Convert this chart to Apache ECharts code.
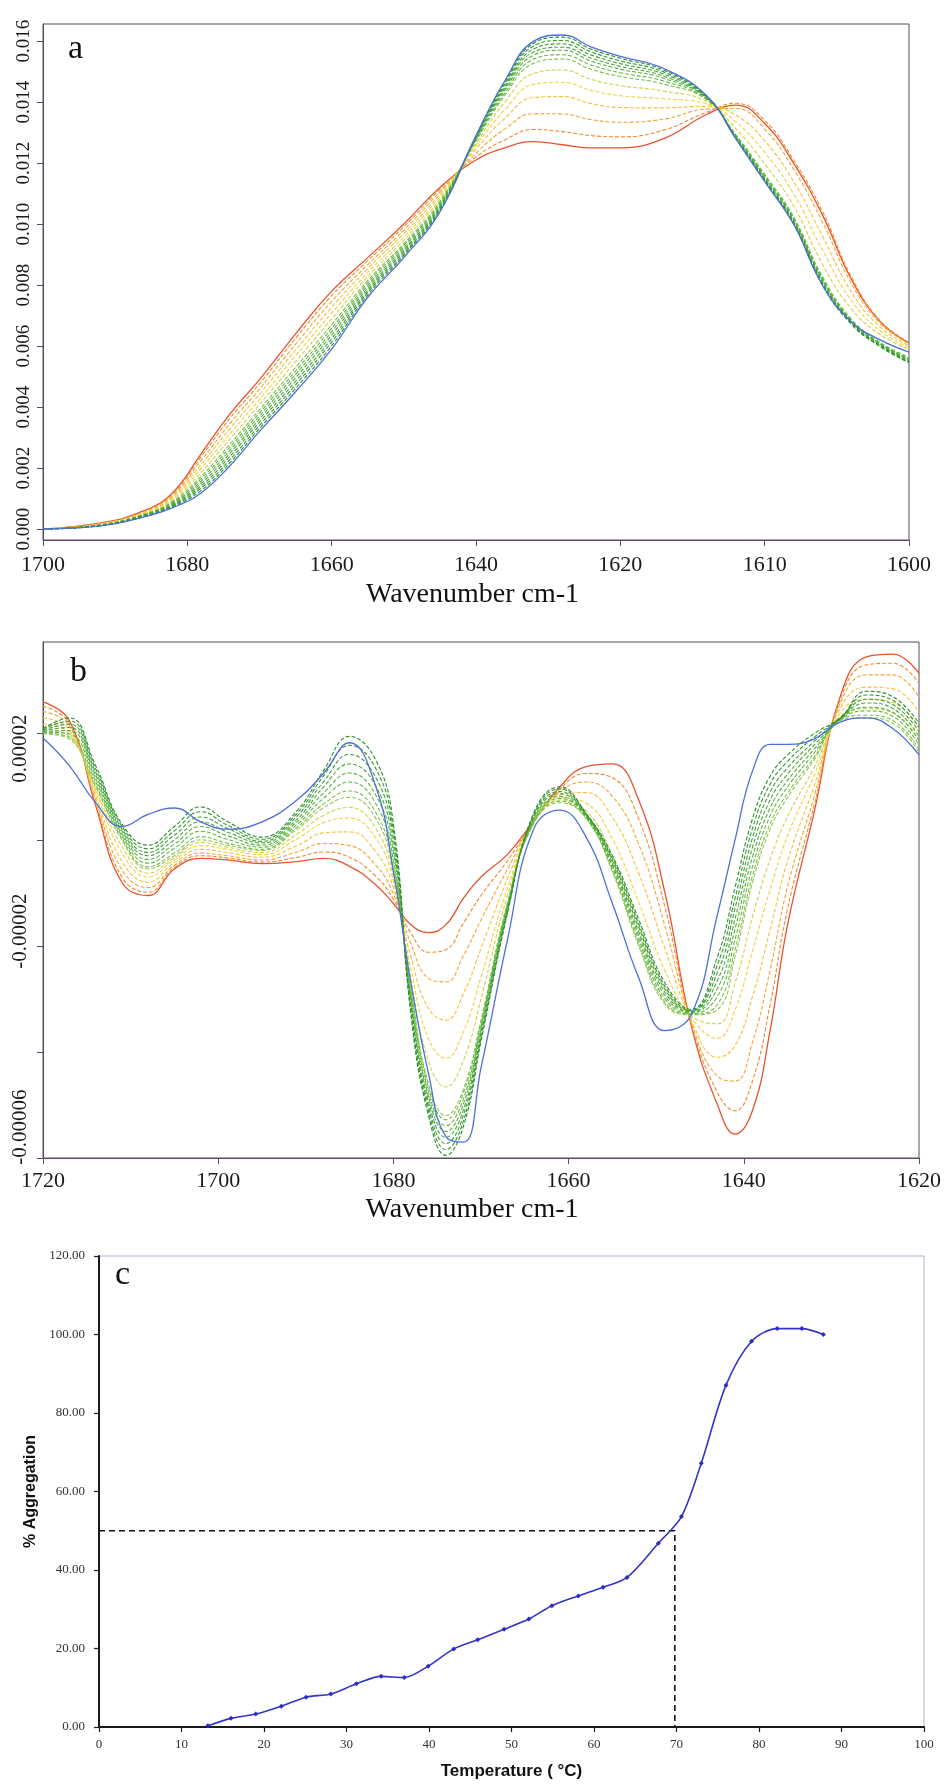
<!DOCTYPE html>
<html><head><meta charset="utf-8">
<script src="https://cdn.jsdelivr.net/npm/echarts@6/dist/echarts.min.js"></script>
<style>html,body{margin:0;padding:0;background:#fff}#c{width:944px;height:1786px}</style>
</head><body><div id="c"></div>
<script>
// ================= Panel a : absorbance spectra =================
const A_TICK_LABELS = [1700, 1680, 1660, 1640, 1620, 1610, 1600];   // equally spaced on the printed axis
const A_Y_TICKS = [0, 0.002, 0.004, 0.006, 0.008, 0.010, 0.012, 0.014, 0.016];
const A_UNIT = 1e-5;   // values below are absorbance x 1e5
const A_WN = [1700,1692,1686,1682,1678,1674,1670,1665,1660,1655,1650,1645,1640,1636,1632,1628,1624,1620,1617,1614,1612,1610,1608,1606,1604,1602,1600];
const A_BLUE = [0,10,40,70,120,210,320,450,590,760,890,1040,1290,1470,1600,1620,1580,1550,1510,1420,1280,1140,1000,800,680,620,580];
const A_G1 = [0,11,41,73,128,220,330,461,601,768,897,1045,1288,1466,1593,1613,1573,1544,1505,1419,1280,1140,1000,800,672,598,545];
const A_G2 = [0,11,42,76,136,230,340,473,613,776,903,1050,1286,1459,1584,1602,1564,1535,1499,1417,1282,1144,1004,805,675,600,548];
const A_G3 = [0,12,44,79,143,241,351,484,624,783,910,1054,1284,1452,1574,1591,1554,1526,1492,1415,1284,1148,1008,809,678,603,551];
const A_G4 = [0,12,45,82,151,251,361,496,636,791,916,1059,1281,1446,1564,1580,1544,1517,1485,1413,1287,1151,1012,814,680,605,554];
const A_G5 = [0,13,46,85,159,261,371,507,647,799,923,1064,1279,1439,1554,1570,1534,1508,1478,1412,1289,1155,1016,818,683,607,557];
const A_G6 = [0,14,47,88,167,271,381,518,658,807,930,1069,1276,1430,1541,1555,1521,1496,1469,1409,1291,1159,1020,823,686,609,560];
const A_G7 = [0,14,48,91,175,281,391,530,670,815,936,1074,1272,1422,1527,1541,1507,1484,1459,1407,1293,1163,1024,828,689,612,563];
const A_Y1 = [0,15,50,96,188,298,408,549,689,828,947,1082,1264,1400,1494,1505,1474,1454,1436,1401,1313,1197,1060,869,722,638,589];
const A_Y2 = [0,16,52,101,201,315,425,568,708,841,958,1090,1256,1375,1458,1465,1438,1421,1411,1394,1335,1235,1100,915,750,650,595];
const A_Y3 = [0,17,54,106,214,332,442,587,727,854,969,1098,1245,1347,1415,1418,1395,1382,1381,1386,1357,1273,1140,961,778,662,601];
const A_Y4 = [0,18,56,111,227,349,459,606,746,867,980,1106,1232,1312,1362,1361,1342,1334,1344,1377,1379,1311,1180,1007,806,674,607];
const A_Y5 = [0,19,58,116,240,366,476,625,765,880,991,1114,1220,1276,1310,1303,1290,1286,1308,1367,1396,1340,1210,1042,827,683,612];
const A_RED = [0,20,60,120,250,380,490,640,780,890,1000,1120,1210,1250,1270,1260,1250,1250,1280,1360,1390,1330,1200,1030,820,680,610];

// ================= Panel b : second derivative spectra =================
const B_Y_TICKS = [-0.00006, -0.00004, -0.00002, 0, 0.00002];
const B_Y_LABELS = [0.00002, -0.00002, -0.00006];
const B_UNIT = 1e-6;   // values below are x 1e6
const B_WN = [1720,1717,1714,1711,1708,1705,1702,1699,1695,1691,1688,1685,1682,1680,1678,1676,1674,1672,1670,1667,1664,1661,1658,1655,1652,1649,1646,1643,1641,1639,1637,1635,1632,1629,1626,1623,1620];
const B_BLUE = [19.2,14,7,2.5,4.8,6,3.4,2,3.4,7.5,12.5,18.3,10,-6,-27,-44,-56,-57,-43,-19,2,5.6,0.5,-12,-26,-36,-33,-14,0,13,18,18,19,22.2,23,21,16];
const B_GA = [21,23,14,3,-1,2.5,6.2,3.5,0.5,5.5,13,19.5,15,3,-33,-52,-59.5,-54,-38,-14,5,10,5,-3,-15,-27,-32,-22,-9,4,12,16,20,23,28,27,22];
const B_G2 = [20.9,22.4,13.4,2.6,-1.7,1.7,5.3,2.8,0.1,5.0,12.0,17.8,13.4,1.7,-32.3,-51.1,-58.4,-53.0,-37.4,-13.7,4.7,9.6,4.9,-3.5,-15.8,-27.6,-32.2,-23.5,-11.0,2.2,10.5,14.8,19.3,22.9,27.3,26.3,21.2];
const B_G3 = [20.7,21.8,12.8,2.1,-2.4,0.9,4.3,2.2,-0.3,4.5,10.9,16.1,11.7,0.3,-31.5,-50.2,-57.3,-51.9,-36.8,-13.4,4.4,9.1,4.7,-3.9,-16.5,-28.2,-32.3,-25,-12.9,0.4,9,13.6,18.5,22.9,26.5,25.5,20.4];
const B_G4 = [20.6,21.2,12.2,1.7,-3.0,0.0,3.4,1.5,-0.6,3.9,9.9,14.3,10.1,-1.1,-30.8,-49.3,-56.1,-50.9,-36.2,-13.1,4.1,8.7,4.6,-4.4,-17.3,-28.8,-32.5,-26.5,-14.9,-1.4,7.5,12.4,17.8,22.8,25.8,24.8,19.5];
const B_G5 = [20.4,20.6,11.6,1.2,-3.7,-0.8,2.5,0.8,-1.0,3.4,8.8,12.6,8.4,-2.4,-30,-48.4,-55,-49.8,-35.6,-12.8,3.8,8.2,4.4,-4.8,-18,-29.4,-32.6,-28,-16.8,-3.2,6,11.2,17,22.7,25,24,18.7];
const B_G6 = [20.3,20,11,0.8,-4.4,-1.6,1.6,0.1,-1.4,2.9,7.8,10.9,6.8,-3.8,-29.3,-47.5,-53.9,-48.8,-35,-12.5,3.5,7.8,4.3,-5.3,-18.8,-30,-32.8,-29.5,-18.8,-5,4.5,10,16.3,22.6,24.3,23.3,17.9];
const B_G7 = [20.1,19.4,10.4,0.3,-5.1,-2.5,0.6,-0.6,-1.8,2.4,6.7,9.2,5.1,-5.1,-28.5,-46.6,-52.8,-47.7,-34.4,-12.2,3.2,7.3,4.1,-5.7,-19.5,-30.6,-32.9,-31,-20.7,-6.8,3,8.8,15.5,22.6,23.5,22.5,17.1];
const B_GB = [20,19,10,0,-5.5,-3,0,-1,-2,2,6,8,4,-6,-28,-46,-52,-47,-34,-12,3,7,4,-6,-20,-31,-33,-32,-22,-8,2,8,15,22.5,23,22,16.5];
const B_Y1 = [20.9,19.5,9.5,-1.2,-6.3,-3.4,-0.5,-1.4,-2.4,1.1,4.6,6.1,2.1,-6.9,-26.2,-41.7,-46.6,-41.6,-30,-10.6,3.1,7.5,5.5,-3.0,-15.9,-27.9,-33.3,-34.7,-27.0,-14.5,-3.7,4.4,13.5,23.2,24.7,24.0,18.7];
const B_Y2 = [21.8,20.1,9.0,-2.4,-7.0,-3.8,-1.1,-1.8,-2.8,0.2,3.2,4.1,0.3,-7.8,-24.4,-37.5,-41.2,-36.2,-25.9,-9.2,3.2,7.9,6.9,0.1,-11.8,-24.7,-33.6,-37.4,-32.1,-20.9,-9.4,0.8,12,23.9,26.5,25.9,21.0];
const B_Y3 = [23.0,20.8,8.3,-4,-8,-4.3,-1.8,-2.4,-3.3,-1.1,1.3,1.5,-2.3,-9,-22,-31.8,-34,-29,-20.5,-7.4,3.3,8.5,8.9,4.2,-6.3,-20.5,-34,-41,-38.8,-29.5,-17,-4,10,24.8,28.8,28.5,24.0];
const B_Y4 = [24.2,21.5,7.6,-5.6,-9,-4.8,-2.5,-3.0,-3.8,-2.3,-0.7,-1.1,-4.8,-10.2,-19.6,-26.1,-26.8,-21.8,-15.1,-5.6,3.4,9.1,10.9,8.2,-0.8,-16.3,-34.4,-44.6,-45.5,-38.1,-24.6,-8.8,8,25.7,31.1,31.1,26.9];
const B_Y5 = [25.2,22.0,7.0,-7.0,-9.9,-5.2,-3.0,-3.4,-4.2,-3.3,-2.3,-3.3,-6.9,-11.2,-17.6,-21.2,-20.7,-15.7,-10.5,-4.0,3.4,9.6,12.5,11.7,3.9,-12.7,-34.7,-47.7,-51.1,-45.4,-31.1,-12.9,6.3,26.4,33.0,33.3,29.5];
const B_RED = [26,22.5,6.5,-8,-10.5,-5.5,-3.5,-3.8,-4.5,-4.1,-3.5,-5,-8.5,-12,-16,-17.5,-16,-11,-7,-2.8,3.5,10,13.8,14.3,7.5,-10,-35,-50,-55.5,-51,-36,-16,5,27,34.5,35,31.4];

// ================= Panel c : % aggregation vs temperature =================
const C_TEMP = [13.2,16.0,19.0,22.1,25.1,28.1,31.2,34.2,37.0,39.9,43.0,45.9,49.1,52.1,54.9,58.1,61.1,64.0,67.8,70.6,73.0,76.0,79.1,82.2,85.2,87.8];
const C_AGG  = [0.3,2.2,3.3,5.3,7.6,8.4,11.0,12.9,12.6,15.5,19.9,22.2,24.9,27.5,30.9,33.4,35.6,38.1,46.8,53.6,67.2,87.1,98.3,101.5,101.5,100.0];
const C_MID_PCT = 50;
const C_TM = 69.8;

// ---------------- styling ----------------
const SERIF = 'Liberation Serif';
const SANS = 'Liberation Sans';
const FRAME = '#5b4b60';
const BLUE = '#4d6fd9', RED = '#e8532f';
const YELLOWS = ['#cfd24a', '#f0d23e', '#f6c13a', '#f5a531', '#f08a2b'];
const GREENS = ['#2a8f2e', '#33972f', '#3d9f33', '#48a837', '#55b03b', '#64b840', '#78c046', '#90c84d'];
// the printed panel-b y labels sit a little off their ticks (offset in axis units)
const B_LABEL_NUDGE = [-2.8e-6, 2.8e-6, 5.8e-6];

// position of a wavenumber on panel a's printed (piecewise) axis
function aPos(wn) {
  const t = A_TICK_LABELS;
  for (let i = 0; i < t.length - 1; i++) {
    if (wn <= t[i] && wn >= t[i + 1]) return i + (t[i] - wn) / (t[i] - t[i + 1]);
  }
  return wn > t[0] ? 0 : t.length - 1;
}

function curve(idx, xs, ys, unit, color, dashed, xmap) {
  return {
    type: 'line', xAxisIndex: idx, yAxisIndex: idx, silent: true, animation: false,
    symbol: 'none', smooth: 0.45,
    data: xs.map((w, i) => [xmap ? xmap(w) : w, ys[i] * unit]),
    lineStyle: { color: color, width: dashed ? 1.1 : 1.3, type: dashed ? [4, 2] : 'solid' }
  };
}

const series = [];
// panel a
series.push(curve(0, A_WN, A_RED, A_UNIT, RED, false, aPos));
[A_Y5, A_Y4, A_Y3, A_Y2, A_Y1].forEach((d, k) => series.push(curve(0, A_WN, d, A_UNIT, YELLOWS[4 - k], true, aPos)));
[A_G7, A_G6, A_G5, A_G4, A_G3, A_G2, A_G1].forEach((d, k) => series.push(curve(0, A_WN, d, A_UNIT, GREENS[6 - k], true, aPos)));
series.push(curve(0, A_WN, A_BLUE, A_UNIT, BLUE, false, aPos));
// panel b
series.push(curve(1, B_WN, B_RED, B_UNIT, RED, false));
[B_Y5, B_Y4, B_Y3, B_Y2, B_Y1].forEach((d, k) => series.push(curve(1, B_WN, d, B_UNIT, YELLOWS[4 - k], true)));
[B_GB, B_G7, B_G6, B_G5, B_G4, B_G3, B_G2, B_GA].forEach((d, k) => series.push(curve(1, B_WN, d, B_UNIT, GREENS[7 - k], true)));
series.push(curve(1, B_WN, B_BLUE, B_UNIT, BLUE, false));
// panel c
series.push({
  type: 'line', xAxisIndex: 2, yAxisIndex: 2, silent: true, animation: false, symbol: 'none',
  data: [[0, C_MID_PCT], [C_TM, C_MID_PCT], [C_TM, 0]],
  lineStyle: { color: '#111', width: 1.6, type: [6, 4] }
});
series.push({
  type: 'line', xAxisIndex: 2, yAxisIndex: 2, silent: true, animation: false,
  data: C_TEMP.map((t, i) => [t, C_AGG[i]]), smooth: 0.3,
  symbol: 'diamond', symbolSize: 5,
  itemStyle: { color: '#2c2cc4' },
  lineStyle: { color: '#3333cc', width: 1.6 }
});

const axisFrame = { show: true, onZero: false, lineStyle: { color: FRAME, width: 1 } };
const tickFrame = { show: true, length: 6, lineStyle: { color: FRAME, width: 1 } };
const wnName = (gap, shift) => ({
  name: 'Wavenumber cm-1', nameLocation: 'middle', nameGap: gap,
  nameTextStyle: { fontFamily: SERIF, fontSize: 28, color: '#111', padding: [0, shift, 0, 0] }
});
const bLabelPos = B_Y_LABELS.map((v, i) => v + B_LABEL_NUDGE[i]);
function bLabelText(v) {
  let best = B_Y_LABELS[0];
  B_Y_LABELS.forEach(l => { if (Math.abs(l - v) < Math.abs(best - v)) best = l; });
  return best.toFixed(5);
}

const option = {
  backgroundColor: '#fff',
  animation: false,
  grid: [
    { left: 43, right: 35, top: 24, height: 516, show: true, borderColor: FRAME, borderWidth: 1, containLabel: false },
    { left: 43, right: 22, top: 642, height: 516, show: true, borderColor: FRAME, borderWidth: 1, containLabel: false },
    { left: 99, right: 20, top: 1256, height: 471, show: true, borderColor: '#b9aed0', borderWidth: 1, containLabel: false }
  ],
  xAxis: [
    Object.assign({
      gridIndex: 0, type: 'value', min: 0, max: 6, interval: 1,
      axisLine: axisFrame, axisTick: tickFrame, splitLine: { show: false },
      axisLabel: { formatter: v => String(A_TICK_LABELS[Math.round(v)]), fontFamily: SERIF, fontSize: 22, color: '#1a1a1a', margin: 14 }
    }, wnName(41, 7)),
    Object.assign({
      gridIndex: 1, type: 'value', min: 1620, max: 1720, interval: 20, inverse: true,
      axisLine: axisFrame, axisTick: tickFrame, splitLine: { show: false },
      axisLabel: { formatter: v => String(v), fontFamily: SERIF, fontSize: 22, color: '#1a1a1a', margin: 12 }
    }, wnName(38, 18)),
    {
      gridIndex: 2, type: 'value', min: 0, max: 100, interval: 10,
      axisLine: { show: true, onZero: false, lineStyle: { color: '#1a1a1a', width: 2 } },
      axisTick: { show: true, length: 5, lineStyle: { color: '#1a1a1a', width: 1.2 } },
      splitLine: { show: false },
      axisLabel: { formatter: v => String(v), fontFamily: SERIF, fontSize: 13, color: '#333', margin: 11 },
      name: 'Temperature ( \u00B0C)', nameLocation: 'middle', nameGap: 36,
      nameTextStyle: { fontFamily: SANS, fontSize: 17, fontWeight: 'bold', color: '#111' }
    }
  ],
  yAxis: [
    {
      gridIndex: 0, type: 'value', min: -0.00036, max: 0.01656,
      axisLine: axisFrame, splitLine: { show: false },
      axisTick: Object.assign({ customValues: A_Y_TICKS }, tickFrame),
      axisLabel: { customValues: A_Y_TICKS, rotate: 90, formatter: v => v.toFixed(3), fontFamily: SERIF, fontSize: 19, color: '#1a1a1a', margin: 9 }
    },
    {
      gridIndex: 1, type: 'value', min: -0.00006, max: 0.0000373,
      axisLine: axisFrame, splitLine: { show: false },
      axisTick: Object.assign({ customValues: B_Y_TICKS }, tickFrame),
      axisLabel: { customValues: bLabelPos, rotate: 90, formatter: bLabelText, fontFamily: SERIF, fontSize: 21, color: '#1a1a1a', margin: 12 }
    },
    {
      gridIndex: 2, type: 'value', min: 0, max: 120, interval: 20,
      axisLine: { show: true, lineStyle: { color: '#1a1a1a', width: 2 } },
      axisTick: { show: true, length: 5, lineStyle: { color: '#1a1a1a', width: 1.2 } },
      splitLine: { show: false },
      axisLabel: { formatter: v => v.toFixed(2), fontFamily: SERIF, fontSize: 13, color: '#333', margin: 14 },
      name: '% Aggregation', nameLocation: 'middle', nameGap: 58, nameRotate: 90,
      nameTextStyle: { fontFamily: SANS, fontSize: 16, fontWeight: 'bold', color: '#111' }
    }
  ],
  graphic: [
    { type: 'text', left: 68, top: 32, style: { text: 'a', font: '34px "Liberation Serif"', fill: '#111' } },
    { type: 'text', left: 70, top: 655, style: { text: 'b', font: '34px "Liberation Serif"', fill: '#111' } },
    { type: 'text', left: 115, top: 1258, style: { text: 'c', font: '34px "Liberation Serif"', fill: '#111' } }
  ],
  series: series
};

const chart = echarts.init(document.getElementById('c'), null, { renderer: 'canvas' });
chart.setOption(option);
</script>
</body></html>
